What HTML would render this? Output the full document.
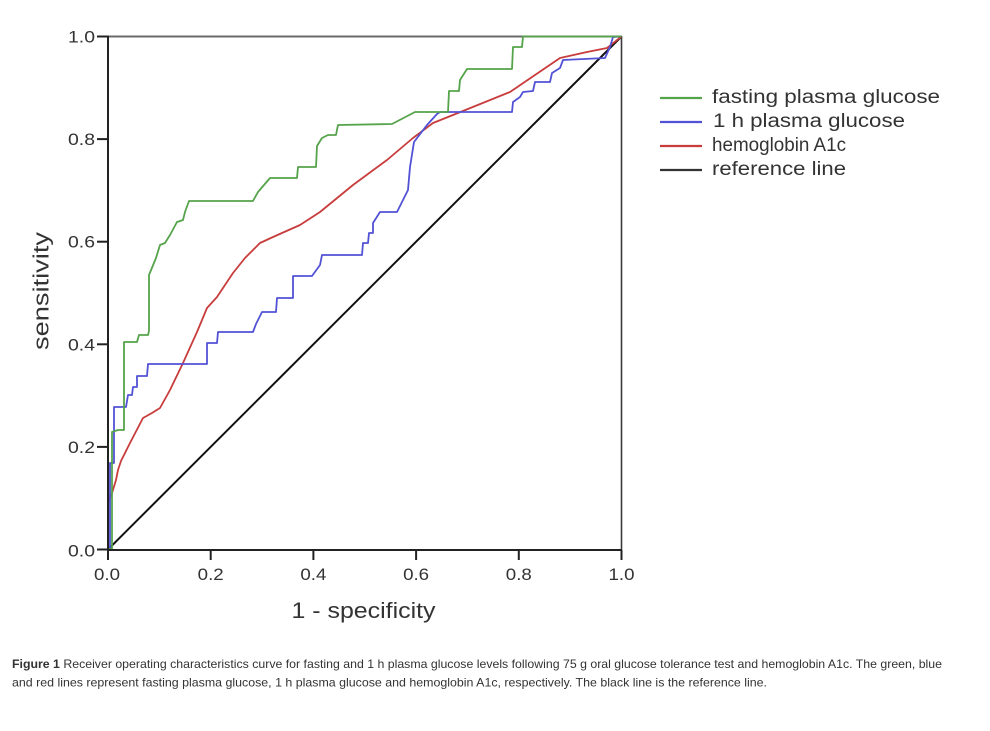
<!DOCTYPE html>
<html>
<head>
<meta charset="utf-8">
<style>
  html,body{margin:0;padding:0;background:#fff;}
  svg{display:block;}
  text{font-family:"Liberation Sans", Arial, sans-serif;fill:#333;}
</style>
</head>
<body>
<svg width="990" height="731" viewBox="0 0 990 731" xmlns="http://www.w3.org/2000/svg">
  <rect width="990" height="731" fill="#fff"/>

  <!-- frame -->
  <line x1="108" y1="36.5" x2="622" y2="36.5" stroke="#6a6a6a" stroke-width="2"/>
  <line x1="621.5" y1="36" x2="621.5" y2="550" stroke="#3a3a3a" stroke-width="1.6"/>

  <!-- reference line -->
  <line x1="108" y1="549.5" x2="621.5" y2="36.5" stroke="#111" stroke-width="2"/>

  <!-- red: hemoglobin A1c -->
  <polyline fill="none" stroke="#c83c3c" stroke-width="1.8" stroke-linejoin="round"
    points="108,503 112,493 116,480 118,470 121,461 130,443 143,418 152,413 160,408 170,390 183,363 197,332 207,308 217,297 233,273 245,258 260,243 273,237 300,225 320,212 353,185 387,160 413,138 433,123 453,115 510,92 560,58 587,52 607,48 621.5,36.5"/>

  <!-- blue: 1 h plasma glucose -->
  <polyline fill="none" stroke="#5252d6" stroke-width="1.8" stroke-linejoin="round"
    points="108,549 110,549 110,463 114,463 114,407 126,407 128,395 132,395 133,387 137,387 137,376 147,376 148,364 207,364 207,343 217,343 218,332 253,332 256,324 262,312 276,312 277,298 293,298 293,276 312,276 320,265 322,255 362,255 363,243 368,243 369,233 373,233 373,223 380,212 397,212 408,190 410,167 414,142 427,125 437,114 440,112 512,112 513,102 520,97 523,92 533,91 535,82 550,82 552,73 560,68 563,60 605,58 610,47 613,37 621.5,36.5"/>

  <!-- green: fasting plasma glucose -->
  <polyline fill="none" stroke="#55a34a" stroke-width="1.8" stroke-linejoin="round"
    points="108,549 112,549 112,432 118,430 124,430 124,342 137,342 139,335 148,335 149,331 149,275 156,258 160,245 165,243 170,235 177,222 183,220 185,212 189,201 253,201 258,192 270,178 297,178 298,167 316,167 317,146 322,138 328,135 336,135 338,125 392,124 415,112 448,112 449,91 459,91 460,80 467,69 512,69 513,47 522,47 523,36.5 621.5,36.5"/>

  <!-- axes -->
  <line x1="108" y1="35.5" x2="108" y2="551" stroke="#222" stroke-width="2"/>
  <line x1="107" y1="550" x2="622" y2="550" stroke="#222" stroke-width="2"/>

  <!-- y ticks -->
  <g stroke="#222" stroke-width="2">
    <line x1="97" y1="36.5" x2="108" y2="36.5"/>
    <line x1="97" y1="139.1" x2="108" y2="139.1"/>
    <line x1="97" y1="241.7" x2="108" y2="241.7"/>
    <line x1="97" y1="344.3" x2="108" y2="344.3"/>
    <line x1="97" y1="446.9" x2="108" y2="446.9"/>
    <line x1="97" y1="549.5" x2="108" y2="549.5"/>
  </g>
  <!-- x ticks -->
  <g stroke="#222" stroke-width="2">
    <line x1="108" y1="550" x2="108" y2="560"/>
    <line x1="210.7" y1="550" x2="210.7" y2="560"/>
    <line x1="313.4" y1="550" x2="313.4" y2="560"/>
    <line x1="416.1" y1="550" x2="416.1" y2="560"/>
    <line x1="518.8" y1="550" x2="518.8" y2="560"/>
    <line x1="621.5" y1="550" x2="621.5" y2="560"/>
  </g>

  <!-- y tick labels -->
  <g font-size="17" text-anchor="end">
    <text x="95" y="42.5" textLength="27" lengthAdjust="spacingAndGlyphs">1.0</text>
    <text x="95" y="145" textLength="27" lengthAdjust="spacingAndGlyphs">0.8</text>
    <text x="95" y="247.7" textLength="27" lengthAdjust="spacingAndGlyphs">0.6</text>
    <text x="95" y="350.3" textLength="27" lengthAdjust="spacingAndGlyphs">0.4</text>
    <text x="95" y="452.9" textLength="27" lengthAdjust="spacingAndGlyphs">0.2</text>
    <text x="95" y="556.5" textLength="27" lengthAdjust="spacingAndGlyphs">0.0</text>
  </g>
  <!-- x tick labels -->
  <g font-size="17" text-anchor="middle">
    <text x="107" y="580" textLength="26" lengthAdjust="spacingAndGlyphs">0.0</text>
    <text x="210.7" y="580" textLength="26" lengthAdjust="spacingAndGlyphs">0.2</text>
    <text x="313.4" y="580" textLength="26" lengthAdjust="spacingAndGlyphs">0.4</text>
    <text x="416.1" y="580" textLength="26" lengthAdjust="spacingAndGlyphs">0.6</text>
    <text x="518.8" y="580" textLength="26" lengthAdjust="spacingAndGlyphs">0.8</text>
    <text x="621.5" y="580" textLength="26" lengthAdjust="spacingAndGlyphs">1.0</text>
  </g>

  <!-- axis titles -->
  <text x="0" y="0" font-size="22" text-anchor="middle" transform="translate(48.5,291) rotate(-90)" textLength="118" lengthAdjust="spacingAndGlyphs">sensitivity</text>
  <text x="291.5" y="618" font-size="22.5" textLength="144" lengthAdjust="spacingAndGlyphs">1 - specificity</text>

  <!-- legend -->
  <g stroke-width="2.2">
    <line x1="660" y1="98" x2="702" y2="98" stroke="#55a34a"/>
    <line x1="660" y1="122" x2="702" y2="122" stroke="#5252d6"/>
    <line x1="660" y1="146" x2="702" y2="146" stroke="#c83c3c"/>
    <line x1="660" y1="170" x2="702" y2="170" stroke="#333"/>
  </g>
  <g font-size="19">
    <text x="712" y="103" textLength="228" lengthAdjust="spacingAndGlyphs">fasting plasma glucose</text>
    <text x="713" y="127" textLength="192" lengthAdjust="spacingAndGlyphs">1 h plasma glucose</text>
    <text x="712" y="151" textLength="134" lengthAdjust="spacingAndGlyphs">hemoglobin A1c</text>
    <text x="712" y="175" textLength="134" lengthAdjust="spacingAndGlyphs">reference line</text>
  </g>

  <!-- caption -->
  <g font-size="12" style="fill:#222">
    <text x="12" y="668" textLength="930" lengthAdjust="spacingAndGlyphs"><tspan font-weight="bold">Figure 1</tspan> Receiver operating characteristics curve for fasting and 1 h plasma glucose levels following 75 g oral glucose tolerance test and hemoglobin A1c. The green, blue</text>
    <text x="12" y="686.5" textLength="755" lengthAdjust="spacingAndGlyphs">and red lines represent fasting plasma glucose, 1 h plasma glucose and hemoglobin A1c, respectively. The black line is the reference line.</text>
  </g>
</svg>
</body>
</html>
